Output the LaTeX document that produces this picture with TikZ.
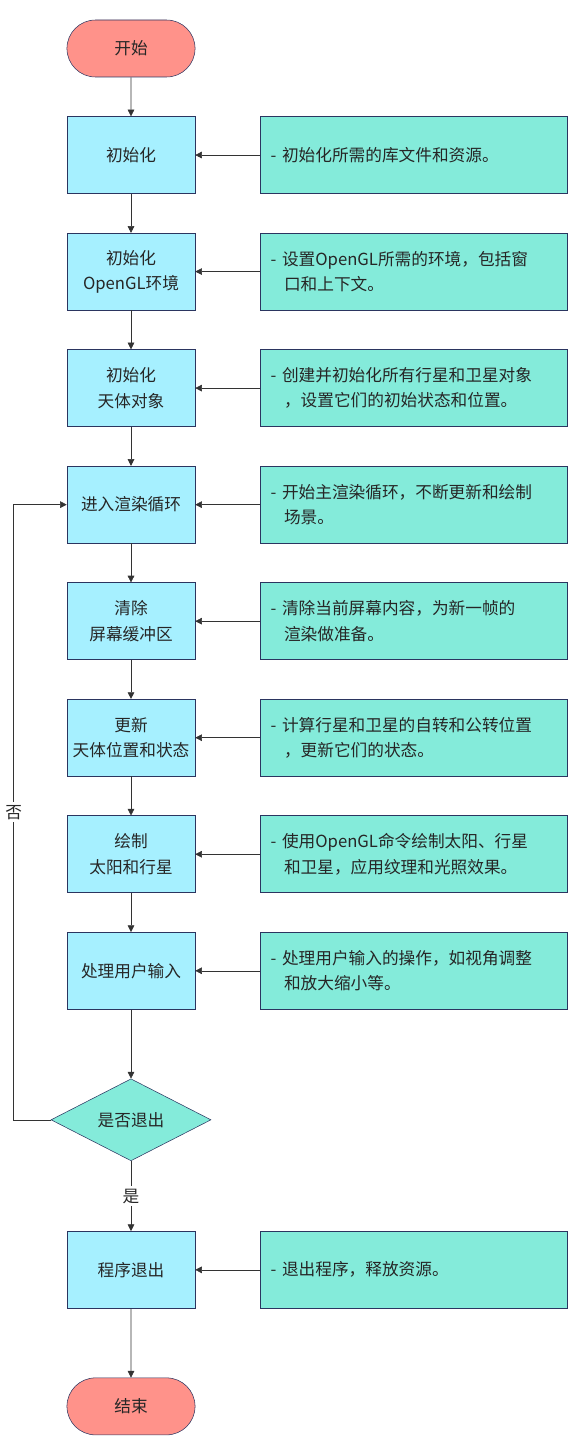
\documentclass[tikz,border=0pt]{standalone}
\usepackage{fontspec}
\setmainfont{Noto Sans CJK SC}
\usepackage{tikz}
\usetikzlibrary{arrows.meta,positioning,shapes.geometric,shapes.misc}
\definecolor{startred}{HTML}{FF928A}
\definecolor{stepblue}{HTML}{A6F0FF}
\definecolor{notegreen}{HTML}{84EBDA}
\definecolor{edgeblue}{HTML}{2B3560}
\definecolor{linegray}{HTML}{333333}
\newcommand{\indentline}{\\\hspace*{10pt}}

\begin{document}
\begin{tikzpicture}[
x=0.75pt,y=-0.75pt,
every node/.style={font=\fontsize{12.5pt}{19pt}\selectfont,text=black!85},
terminal/.style={rounded rectangle,draw=edgeblue,fill=startred,minimum width=102.75pt,minimum height=42.75pt},
stepbox/.style={rectangle,draw=edgeblue,fill=stepblue,minimum width=96pt,minimum height=57.75pt,align=center},
notebox/.style={rectangle,draw=edgeblue,fill=notegreen,minimum width=230.25pt,minimum height=57.75pt,text width=215pt,align=left},
decision/.style={diamond,draw=edgeblue,fill=notegreen,aspect=1.95,minimum width=120pt,minimum height=61.5pt,inner sep=0pt},
arr/.style={draw=linegray,-{Triangle[length=5pt,width=5pt]}},
node distance=29.25pt and 48.75pt
]
\useasboundingbox (0,0) rectangle (585,1452);
\node[terminal] (start) at (131,48.5) {开始};
\node[stepbox,below=of start] (init) {初始化};
\node[stepbox,below=of init] (gl) {初始化\\OpenGL环境};
\node[stepbox,below=of gl] (bodies) {初始化\\天体对象};
\node[stepbox,below=of bodies] (loop) {进入渲染循环};
\node[stepbox,below=of loop] (clear) {清除\\屏幕缓冲区};
\node[stepbox,below=of clear] (update) {更新\\天体位置和状态};
\node[stepbox,below=of update] (draw) {绘制\\太阳和行星};
\node[stepbox,below=of draw] (input) {处理用户输入};
\node[decision,below=51.75pt of input] (quit) {是否退出};
\node[stepbox,below=52.5pt of quit] (exit) {程序退出};
\node[terminal,below=51.75pt of exit] (end) {结束};
% notes
\node[notebox,right=of init] (n1) {- 初始化所需的库文件和资源。};
\node[notebox,right=of gl] (n2) {- 设置OpenGL所需的环境，包括窗\indentline 口和上下文。};
\node[notebox,right=of bodies] (n3) {- 创建并初始化所有行星和卫星对象\indentline ，设置它们的初始状态和位置。};
\node[notebox,right=of loop] (n4) {- 开始主渲染循环，不断更新和绘制\indentline 场景。};
\node[notebox,right=of clear] (n5) {- 清除当前屏幕内容，为新一帧的\indentline 渲染做准备。};
\node[notebox,right=of update] (n6) {- 计算行星和卫星的自转和公转位置\indentline ，更新它们的状态。};
\node[notebox,right=of draw] (n7) {- 使用OpenGL命令绘制太阳、行星\indentline 和卫星，应用纹理和光照效果。};
\node[notebox,right=of input] (n8) {- 处理用户输入的操作，如视角调整\indentline 和放大缩小等。};
\node[notebox,right=of exit] (n9) {- 退出程序，释放资源。};
% flow
\foreach \a/\b in {start/init,init/gl,gl/bodies,bodies/loop,loop/clear,clear/update,update/draw,draw/input,input/quit,exit/end}
  \draw[arr] (\a) -- (\b);
\foreach \a/\b in {init/n1,gl/n2,bodies/n3,loop/n4,clear/n5,update/n6,draw/n7,input/n8,exit/n9}
  \draw[arr] (\b) -- (\a);
\draw[arr] (quit) -- node[fill=white,inner sep=2pt]{是} (exit);
\draw[arr] (quit.west) -- ++(-37,0) |- node[pos=0.25,fill=white,inner sep=2pt]{否} (loop.west);
\end{tikzpicture}
\end{document}
